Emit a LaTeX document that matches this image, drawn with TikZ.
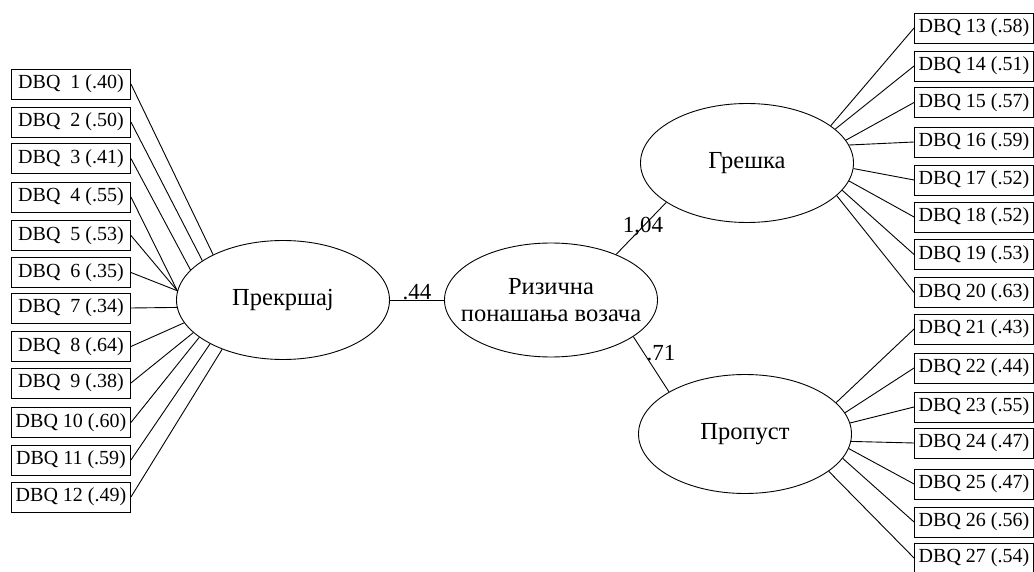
\documentclass[tikz,border=0pt]{standalone}
\usepackage{fontspec}
\setmainfont{Liberation Serif}
\usetikzlibrary{shapes,positioning}

\begin{document}
\begin{tikzpicture}%
    [x=1pt,
    y=-1pt,
    line width=0.9pt,
    every node/.style={font=\fontsize{20}{22}\selectfont},
    item/.style={draw=black, rectangle, minimum width=119pt, minimum height=30pt, inner sep=2pt},
    factor/.style={draw=black, ellipse, minimum width=213pt, minimum height=119pt, inner sep=0pt, align=center, font=\fontsize{24.5}{27}\selectfont},
    coef/.style={anchor=base, inner sep=0pt, font=\fontsize{23}{25}\selectfont}
    ]
    \useasboundingbox (0,0) rectangle (1034,572);

    % latent variables
    \node[factor] (pr) at (283,300) {Прекршај};
    \node[factor, minimum height=114pt, inner xsep=-15pt] (rb) at (551,300) {Ризична\\понашања возача};
    \node[factor] (gr) at (747,163) {Грешка};
    \node[factor] (pp) at (745,434) {Пропуст};

    % items on the left
    \node[item] (b1)  at (71,84)    {DBQ~~1 (.40)};
    \node[item] (b2)  at (71,122)   {DBQ~~2 (.50)};
    \node[item] (b3)  at (71,158.5) {DBQ~~3 (.41)};
    \node[item] (b4)  at (71,197)   {DBQ~~4 (.55)};
    \node[item] (b5)  at (71,235.5) {DBQ~~5 (.53)};
    \node[item] (b6)  at (71,272.5) {DBQ~~6 (.35)};
    \node[item] (b7)  at (71,308)   {DBQ~~7 (.34)};
    \node[item] (b8)  at (71,346.5) {DBQ~~8 (.64)};
    \node[item] (b9)  at (71,383)   {DBQ~~9 (.38)};
    \node[item] (b10) at (71,422.5) {DBQ 10 (.60)};
    \node[item] (b11) at (71,460)   {DBQ 11 (.59)};
    \node[item] (b12) at (71,497)   {DBQ 12 (.49)};

    % items on the right
    \node[item] (b13) at (974,28)    {DBQ 13 (.58)};
    \node[item] (b14) at (974,66)    {DBQ 14 (.51)};
    \node[item] (b15) at (974,102.5) {DBQ 15 (.57)};
    \node[item] (b16) at (974,142)   {DBQ 16 (.59)};
    \node[item] (b17) at (974,180)   {DBQ 17 (.52)};
    \node[item] (b18) at (974,217)   {DBQ 18 (.52)};
    \node[item] (b19) at (974,254.5) {DBQ 19 (.53)};
    \node[item] (b20) at (974,292.5) {DBQ 20 (.63)};
    \node[item] (b21) at (974,329)   {DBQ 21 (.43)};
    \node[item] (b22) at (974,368)   {DBQ 22 (.44)};
    \node[item] (b23) at (974,407)   {DBQ 23 (.55)};
    \node[item] (b24) at (974,443)   {DBQ 24 (.47)};
    \node[item] (b25) at (974,484)   {DBQ 25 (.47)};
    \node[item] (b26) at (974,522)   {DBQ 26 (.56)};
    \node[item] (b27) at (974,558)   {DBQ 27 (.54)};

    % path coefficients
    \node[coef] (c1) at (417,300) {.44};
    \node[coef] (c2) at (643,233) {1,04};
    \node[coef] (c3) at (661,360) {.71};

    \path[-]
    % FROM       TO
    (pr.east)  edge (rb.west)
    (rb.35)    edge (gr.206)
    (rb.-24)   edge (pp.151)
    (b1.east)  edge (pr.147)
    (b2.east)  edge (pr.154)
    (b3.east)  edge (pr.162)
    (b4.east)  edge (pr.175)
    (b5.east)  edge (pr.175)
    (b6.east)  edge (pr.175)
    (b7.east)  edge (pr.184)
    (b8.east)  edge (pr.193)
    (b9.east)  edge (pr.200)
    (b10.east) edge (pr.204)
    (b11.east) edge (pr.211)
    (b12.east) edge (pr.219)
    (gr.24)    edge (b13.west)
    (gr.21)    edge (b14.west)
    (gr.13)    edge (b15.west)
    (gr.10)    edge (b16.west)
    (gr.-3)    edge (b17.west)
    (gr.-10)   edge (b18.west)
    (gr.-16)   edge (b19.west)
    (gr.-20)   edge (b20.west)
    (pp.19)    edge (b21.west)
    (pp.12)    edge (b22.west)
    (pp.6)     edge (b23.west)
    (pp.-4)    edge (b24.west)
    (pp.-8)    edge (b25.west)
    (pp.-14)   edge (b26.west)
    (pp.-24)   edge (b27.west)
    ;
\end{tikzpicture}
\end{document}
